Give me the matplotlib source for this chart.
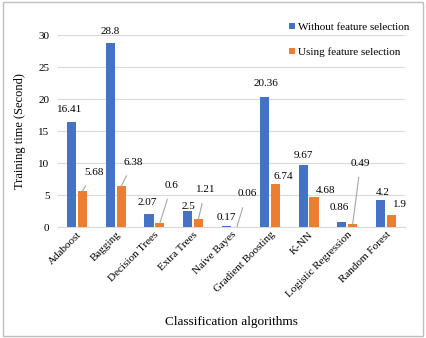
import numpy as np
import matplotlib.pyplot as plt
from matplotlib.patches import Rectangle

plt.rcParams['font.family'] = ['Liberation Serif', 'DejaVu Serif']

algorithms = ['Adaboost', 'Bagging', 'Decision Trees', 'Extra Trees', 'Naive Bayes',
              'Gradient Boosting', 'K-NN', 'Logistic Regression', 'Random Forest']
without_fs = [16.41, 28.8, 2.07, 2.5, 0.17, 20.36, 9.67, 0.86, 4.2]
with_fs = [5.68, 6.38, 0.6, 1.21, 0.06, 6.74, 4.68, 0.49, 1.9]

# label offsets in pixels (dx, dy) from bar top, and whether a leader line is drawn
blue_off = [(-2, 13), (0, 11), (-2, 11), (1, 5), (0, 9), (1, 13), (0, 10), (-3, 14), (2, 8)]
orange_off = [(11, 18), (12, 24), (12, 38), (7, 30), (10, 33), (8, 8), (11, 7), (8, 61), (9, 10)]
orange_leader = [True, True, True, True, True, False, False, True, False]

blue = '#4472C4'
orange = '#ED7D31'

fig = plt.figure(figsize=(4.26, 3.38), dpi=100)
ax = fig.add_axes([0.136, 0.328, 0.815, 0.568])

x = np.arange(len(algorithms))
w = 0.24
ax.bar(x - 0.14, without_fs, w, color=blue, label='Without feature selection', zorder=3)
ax.bar(x + 0.14, with_fs, w, color=orange, label='Using feature selection', zorder=3)

ax.set_ylim(0, 30)
ax.set_xlim(-0.5, len(algorithms) - 0.5)
ax.set_yticks(range(0, 31, 5))
ax.yaxis.grid(True, color='#D9D9D9', linewidth=0.8, zorder=0)
for s in ['top', 'right', 'left']:
    ax.spines[s].set_visible(False)
ax.spines['bottom'].set_color('#D9D9D9')
ax.tick_params(axis='y', length=0, labelsize=8, pad=6)
ax.tick_params(axis='x', length=0, labelsize=8, pad=2)
ax.set_xticks(x)
ax.set_xticklabels(algorithms, rotation=45, ha='right', rotation_mode='anchor')

for i in range(len(algorithms)):
    dx, dy = blue_off[i]
    ax.annotate(f'{without_fs[i]:g}', (x[i] - 0.14, without_fs[i]), xytext=(dx, dy),
                textcoords='offset pixels', ha='center', va='center', fontsize=8)
    dx, dy = orange_off[i]
    arrow = dict(arrowstyle='-', color='#A6A6A6', lw=0.8, shrinkA=5, shrinkB=0) if orange_leader[i] else None
    ax.annotate(f'{with_fs[i]:g}', (x[i] + 0.14, with_fs[i]), xytext=(dx, dy),
                textcoords='offset pixels', ha='center', va='center', fontsize=8,
                arrowprops=arrow)

ax.set_ylabel('Training time (Second)', fontsize=9, labelpad=9)
fig.text(0.5435, 0.047, 'Classification algorithms', ha='center', va='center', fontsize=9.5)

fig.legend(loc='upper right', bbox_to_anchor=(0.985, 0.962), frameon=False, fontsize=8,
           handlelength=0.5, handleheight=0.5, handletextpad=0.3, labelspacing=1.35)

fig.patches.append(Rectangle((0.006, 0.006), 0.988, 0.988, transform=fig.transFigure,
                             fill=False, edgecolor='#BFBFBF', linewidth=1))

fig.savefig('out.png', dpi=100)
